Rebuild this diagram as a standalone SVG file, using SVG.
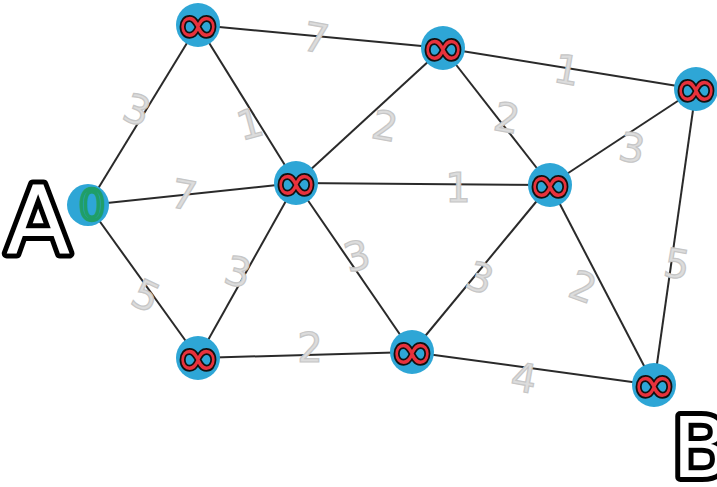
<svg xmlns="http://www.w3.org/2000/svg" width="717" height="487" viewBox="0 0 717 487">
<style>
.edge{stroke:#2a2a2a;stroke-width:2;fill:none}
.w{font-family:"DejaVu Sans","Liberation Sans",sans-serif;font-size:40px;fill:#dcdcdc;stroke:#c6c6c6;stroke-width:1.2;text-anchor:middle;dominant-baseline:central}
.dot{fill:#2ea6d6}
.inf{font-family:"DejaVu Sans",sans-serif;font-size:54px;fill:#e8323c;stroke:#111;stroke-width:3.5;paint-order:stroke;text-anchor:middle;dominant-baseline:central}
.big{font-family:"DejaVu Sans","Liberation Sans",sans-serif;fill:#fff;stroke:#000;stroke-width:10;paint-order:stroke;stroke-linejoin:round}
</style>
<rect width="717" height="487" fill="#fff"/>
<g id="connectors">
<line class="edge" x1="88" y1="205" x2="198" y2="25"/>
<line class="edge" x1="88" y1="205" x2="296" y2="183"/>
<line class="edge" x1="88" y1="205" x2="198" y2="358"/>
<line class="edge" x1="198" y1="25" x2="443" y2="48"/>
<line class="edge" x1="198" y1="25" x2="296" y2="183"/>
<line class="edge" x1="443" y1="48" x2="296" y2="183"/>
<line class="edge" x1="443" y1="48" x2="696" y2="89"/>
<line class="edge" x1="443" y1="48" x2="550" y2="185"/>
<line class="edge" x1="296" y1="183" x2="550" y2="185"/>
<line class="edge" x1="696" y1="89" x2="550" y2="185"/>
<line class="edge" x1="296" y1="183" x2="198" y2="358"/>
<line class="edge" x1="296" y1="183" x2="412" y2="352"/>
<line class="edge" x1="198" y1="358" x2="412" y2="352"/>
<line class="edge" x1="412" y1="352" x2="550" y2="185"/>
<line class="edge" x1="412" y1="352" x2="654" y2="385"/>
<line class="edge" x1="550" y1="185" x2="654" y2="385"/>
<line class="edge" x1="696" y1="89" x2="654" y2="385"/>
</g>
<g id="weights">
<text class="w" x="137" y="110" transform="rotate(20 137 110)">3</text>
<text class="w" x="316" y="38" transform="rotate(10 316 38)">7</text>
<text class="w" x="250" y="124" transform="rotate(-15 250 124)">1</text>
<text class="w" x="184" y="195" transform="rotate(10 184 195)">7</text>
<text class="w" x="385" y="126" transform="rotate(10 385 126)">2</text>
<text class="w" x="507" y="118" transform="rotate(10 507 118)">2</text>
<text class="w" x="567" y="70" transform="rotate(10 567 70)">1</text>
<text class="w" x="632" y="148" transform="rotate(10 632 148)">3</text>
<text class="w" x="458" y="188">1</text>
<text class="w" x="146" y="296" transform="rotate(25 146 296)">5</text>
<text class="w" x="238" y="272" transform="rotate(15 238 272)">3</text>
<text class="w" x="357" y="256" transform="rotate(-15 357 256)">3</text>
<text class="w" x="480" y="278" transform="rotate(20 480 278)">3</text>
<text class="w" x="310" y="348">2</text>
<text class="w" x="524" y="378" transform="rotate(10 524 378)">4</text>
<text class="w" x="583" y="287" transform="rotate(20 583 287)">2</text>
<text class="w" x="677" y="264" transform="rotate(10 677 264)">5</text>
</g>
<g id="labelA"><text class="big" x="6" y="254" font-size="94">A</text></g>
<g id="labelB"><text class="big" x="672" y="477" font-size="84">B</text></g>
<g id="nodeA"><circle class="dot" cx="88" cy="205" r="21"/><text x="92" y="205" font-family="DejaVu Sans,sans-serif" font-size="42" fill="#2ea6d6" stroke="#1f9e68" stroke-width="3.5" text-anchor="middle" dominant-baseline="central">0</text></g>
<g id="n1"><circle class="dot" cx="198" cy="25" r="22"/><text class="inf" x="198" y="24">∞</text></g>
<g id="n2"><circle class="dot" cx="443" cy="48" r="22"/><text class="inf" x="443" y="47">∞</text></g>
<g id="n3"><circle class="dot" cx="696" cy="89" r="22"/><text class="inf" x="696" y="88">∞</text></g>
<g id="n4"><circle class="dot" cx="296" cy="183" r="22"/><text class="inf" x="296" y="182">∞</text></g>
<g id="n5"><circle class="dot" cx="550" cy="185" r="22"/><text class="inf" x="550" y="184">∞</text></g>
<g id="n6"><circle class="dot" cx="198" cy="358" r="22"/><text class="inf" x="198" y="357">∞</text></g>
<g id="n7"><circle class="dot" cx="412" cy="352" r="22"/><text class="inf" x="412" y="351">∞</text></g>
<g id="n8"><circle class="dot" cx="654" cy="385" r="22"/><text class="inf" x="654" y="384">∞</text></g>
</svg>
